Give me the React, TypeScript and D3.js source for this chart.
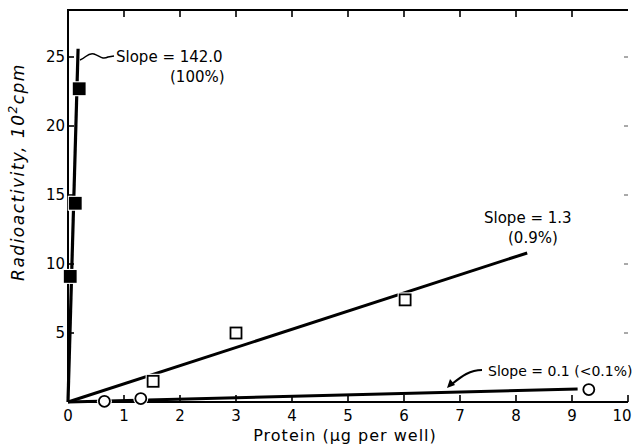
import React from "react";
import * as d3 from "d3";

// values (protein in ug, radioactivity in 10^2 cpm)
const filledX = [0.2, 0.13, 0.04];
const filledY = [22.7, 14.4, 9.1];
const openSqX = [1.52, 3.0, 6.02];
const openSqY = [1.5, 5.0, 7.4];
const circleX = [0.65, 1.3, 9.3];
const circleY = [0.05, 0.25, 0.9];

const fitHigh = [[0, 0], [0.18, 25.6]];
const fitMid = [[0, 0], [8.2, 10.8]];
const fitLow = [[0, 0], [9.1, 0.95]];

const xTicks = [0, 1, 2, 3, 4, 5, 6, 7, 8, 9, 10];
const yTicks = [5, 10, 15, 20, 25];

const W = 633;
const H = 446;
const FONT = "'DejaVu Sans', Verdana, sans-serif";

export default function App() {
  const x = d3.scaleLinear().domain([0, 10]).range([68, 628]);
  const y = d3.scaleLinear().domain([0, 25]).range([402, 57]);
  const line = d3.line<number[]>().x(d => x(d[0])).y(d => y(d[1]));
  const yTop = 10;

  const sq = (cx: number, cy: number, s: number, fill: string, key: string) => (
    <g key={key}>
      <rect x={cx - s / 2 - 2} y={cy - s / 2 - 2} width={s + 4} height={s + 4} fill="#fff" />
      <rect x={cx - s / 2} y={cy - s / 2} width={s} height={s} fill={fill} stroke="#000" strokeWidth={1.8} />
    </g>
  );

  return (
    <svg width={W} height={H} style={{ position: "absolute", left: 0, top: 0, background: "#fff" }}>
      {/* frame */}
      <path d={`M${x(0)},${y(0)}V${yTop}H${x(10)}`} fill="none" stroke="#000" strokeWidth={2} />
      <line x1={x(0)} x2={x(10)} y1={y(0)} y2={y(0)} stroke="#000" strokeWidth={2} />

      {xTicks.slice(1).map(t => (
        <g key={"xt" + t}>
          <line x1={x(t)} x2={x(t)} y1={y(0)} y2={y(0) - 7} stroke="#000" strokeWidth={1.6} />
          {t < 10 && <line x1={x(t)} x2={x(t)} y1={yTop} y2={yTop + 7} stroke="#000" strokeWidth={1.6} />}
        </g>
      ))}
      {xTicks.map(t => (
        <text key={"xl" + t} x={t === 10 ? x(t) - 6 : x(t)} y={421} textAnchor="middle" fontFamily={FONT} fontSize={15} fill="#000">{t}</text>
      ))}
      {yTicks.map(t => (
        <g key={"yt" + t}>
          <line x1={x(0)} x2={x(0) + 6} y1={y(t)} y2={y(t)} stroke="#000" strokeWidth={1.6} />
          <line x1={x(10)} x2={x(10) - 4} y1={y(t)} y2={y(t)} stroke="#555" strokeWidth={1} />
          <text x={x(0) - 3} y={y(t) + 5} textAnchor="end" fontFamily={FONT} fontSize={15} fill="#000">{t}</text>
        </g>
      ))}

      {/* axis titles */}
      <text x={345} y={441} textAnchor="middle" fontFamily={FONT} fontSize={16} letterSpacing={1} fill="#000">Protein (μg per well)</text>
      <text transform="translate(24,172) rotate(-90)" textAnchor="middle" fontFamily={FONT} fontSize={17} letterSpacing={1.5} fontStyle="italic" fill="#000">
        Radioactivity, 10<tspan dy={-7} fontSize={12}>2</tspan><tspan dy={7}>cpm</tspan>
      </text>

      {/* fitted lines */}
      <path d={line(fitHigh) || ""} stroke="#000" strokeWidth={3.2} fill="none" />
      <path d={line(fitMid) || ""} stroke="#000" strokeWidth={3} fill="none" />
      <path d={line(fitLow) || ""} stroke="#000" strokeWidth={3} fill="none" />

      {/* markers */}
      {filledX.map((v, i) => sq(x(v), y(filledY[i]), 11, "#000", "f" + i))}
      {openSqX.map((v, i) => sq(x(v), y(openSqY[i]), 11, "#fff", "o" + i))}
      {circleX.map((v, i) => (
        <g key={"c" + i}>
          <circle cx={x(v)} cy={y(circleY[i])} r={7.5} fill="#fff" />
          <circle cx={x(v)} cy={y(circleY[i])} r={5.5} fill="#fff" stroke="#000" strokeWidth={1.8} />
        </g>
      ))}

      {/* annotations */}
      <path d="M80,60 c6,-2 8,-8 14,-6 c6,2 8,6 14,3 l6,-1" fill="none" stroke="#000" strokeWidth={1.5} />
      <text x={116} y={62} fontFamily={FONT} fontSize={15} fill="#000">Slope = 142.0</text>
      <text x={170} y={82} fontFamily={FONT} fontSize={15} fill="#000">(100%)</text>

      <text x={484} y={223} fontFamily={FONT} fontSize={15} fill="#000">Slope = 1.3</text>
      <text x={508} y={243} fontFamily={FONT} fontSize={15} fill="#000">(0.9%)</text>

      <text x={488} y={376} fontFamily={FONT} fontSize={14} fill="#000">Slope = 0.1 (&lt;0.1%)</text>
      <path d="M482,370 c-12,0 -20,6 -30,14" fill="none" stroke="#000" strokeWidth={2} />
      <path d="M447,388 l3,-9 l5,6 z" fill="#000" />
    </svg>
  );
}
